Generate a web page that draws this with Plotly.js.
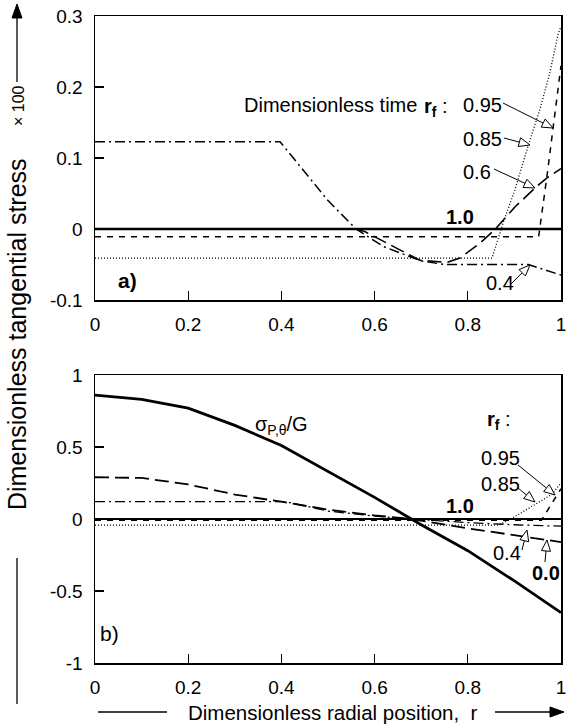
<!DOCTYPE html>
<html>
<head>
<meta charset="utf-8">
<script src="https://cdn.plot.ly/plotly-3.0.1.min.js"></script>
<style>html,body{margin:0;padding:0;background:#fff;}#chart{width:566px;height:728px;}</style>
</head>
<body>
<div id="chart"></div>
<script>
// ---------- DATA ----------
// Panel a) (top): dimensionless tangential stress x 100
const rA_10  = [0, 1];
const sA_10  = [0, 0];
const rA_095 = [0, 0.952, 0.97, 0.994, 1.0];
const sA_095 = [-0.011, -0.011, 0.075, 0.2, 0.23];
const rA_085 = [0, 0.852, 0.876, 0.901, 0.929, 0.955, 0.976, 0.994, 1.0];
const sA_085 = [-0.041, -0.041, 0.009, 0.055, 0.116, 0.169, 0.22, 0.275, 0.285];
const rA_06  = [0, 0.56, 0.58, 0.697, 0.755, 0.783, 0.826, 0.858, 0.901, 0.948, 0.97, 1.0];
const sA_06  = [0, 0, -0.004, -0.044, -0.047, -0.041, -0.02, -0.001, 0.031, 0.06, 0.072, 0.085];
const rA_04  = [0, 0.397, 0.5, 0.56, 0.62, 0.70, 0.75, 0.93, 1.0];
const sA_04  = [0.123, 0.123, 0.04, 0.0, -0.025, -0.045, -0.05, -0.05, -0.065];

// Panel b) (bottom)
const rB_sig = [0, 0.1, 0.2, 0.3, 0.4, 0.5, 0.6, 0.7, 0.8, 0.9, 1.0];
const sB_sig = [0.86, 0.83, 0.77, 0.65, 0.51, 0.33, 0.15, -0.04, -0.22, -0.43, -0.65];
const rB_10  = [0, 1];
const sB_10  = [0, 0];
const rB_095 = [0, 0.958, 1.0];
const sB_095 = [-0.008, -0.008, 0.21];
const rB_085 = [0, 0.867, 0.9, 0.95, 0.98, 1.0];
const sB_085 = [-0.042, -0.042, 0.015, 0.11, 0.17, 0.25];
const rB_04  = [0, 0.41, 0.5, 0.6, 0.68, 0.8, 0.9, 1.0];
const sB_04  = [0.12, 0.12, 0.055, 0.02, 0.0, -0.025, -0.04, -0.05];
const rB_00  = [0, 0.1, 0.2, 0.3, 0.4, 0.5, 0.6, 0.68, 0.8, 0.9, 1.0];
const sB_00  = [0.29, 0.285, 0.24, 0.17, 0.12, 0.065, 0.025, 0.0, -0.065, -0.11, -0.16];

// Tick labels
const xTickVals = [0, 0.2, 0.4, 0.6, 0.8, 1];
const xTickText = ['0', '0.2', '0.4', '0.6', '0.8', '1'];
const yATickVals = [-0.1, 0, 0.1, 0.2, 0.3];
const yATickText = ['-0.1', '0', '0.1', '0.2', '0.3'];
const yBTickVals = [-1, -0.5, 0, 0.5, 1];
const yBTickText = ['-1', '-0.5', '0', '0.5', '1'];

// ---------- STYLE ----------
const FONT = 'Liberation Sans, Arial, Helvetica, sans-serif';
const K = '#000';
const W = 566, H = 728;
const PL = 95, PR = 561, PT = 16, PB = 663;
const PW = PR - PL, PH = PB - PT;
function px(x) { return (x - PL) / PW; }
function py(y) { return (PB - y) / PH; }

const DASH_SHORT = '6px,6px';
const DASH_LONG = '14px,6px';
const DASH_DOT = '10px,4px,2px,4px';
const DOT = '1px,2px';

function tr(x, y, xa, ya, dash, width) {
  return {x: x, y: y, xaxis: xa, yaxis: ya, type: 'scatter', mode: 'lines',
          line: {color: K, width: width, dash: dash}, hoverinfo: 'skip', showlegend: false};
}

const traces = [
  tr(rA_085, sA_085, 'x', 'y', DOT, 1.3),
  tr(rA_095, sA_095, 'x', 'y', DASH_SHORT, 1.5),
  tr(rA_04, sA_04, 'x', 'y', DASH_DOT, 1.5),
  tr(rA_06, sA_06, 'x', 'y', DASH_LONG, 1.6),
  tr(rA_10, sA_10, 'x', 'y', 'solid', 2.6),
  tr(rB_085, sB_085, 'x2', 'y2', DOT, 1.3),
  tr(rB_095, sB_095, 'x2', 'y2', DASH_SHORT, 1.5),
  tr(rB_04, sB_04, 'x2', 'y2', DASH_DOT, 1.3),
  tr(rB_00, sB_00, 'x2', 'y2', DASH_LONG, 1.8),
  tr(rB_10, sB_10, 'x2', 'y2', 'solid', 2.2),
  tr(rB_sig, sB_sig, 'x2', 'y2', 'solid', 2.8)
];

const axisCommon = {
  showline: true, mirror: true, linecolor: K, linewidth: 1.5,
  ticks: 'inside', ticklen: 9, tickwidth: 1.2, tickcolor: K,
  showgrid: false, zeroline: false, tickmode: 'array',
  tickfont: {family: FONT, size: 19, color: K}, ticklabelstandoff: 7,
  ticklabeloverflow: 'allow', fixedrange: true
};

function ann(x, y, text, opts) {
  return Object.assign({xref: 'paper', yref: 'paper', x: px(x), y: py(y), text: text,
    showarrow: false, xanchor: 'left', yanchor: 'middle',
    font: {family: FONT, size: 20, color: K}}, opts || {});
}

const annotations = [
  // panel a
  ann(242, 105, 'Dimensionless time'),
  ann(422, 107, '<b>r<sub>f</sub></b> :'),
  ann(461, 105, '0.95'),
  ann(461, 139, '0.85'),
  ann(461, 172, '0.6'),
  ann(444, 217, '<b>1.0</b>'),
  ann(484, 283, '0.4'),
  ann(116, 280, '<b>a)</b>', {font: {family: FONT, size: 21, color: K}}),
  // panel b
  ann(485, 421, '<b>r<sub>f</sub></b> :'),
  ann(479, 458, '0.95'),
  ann(479, 484, '0.85'),
  ann(444, 506, '<b>1.0</b>'),
  ann(491, 553, '0.4'),
  ann(530, 573, '<b>0.0</b>'),
  ann(253, 425, 'σ<sub>P,θ</sub>/G'),
  ann(98, 633, 'b)', {font: {family: FONT, size: 21, color: K}}),
  // axis titles
  ann(17, 334, 'Dimensionless tangential stress', {xanchor: 'center', textangle: -90, font: {family: FONT, size: 25, color: K}}),
  ann(18, 106, '× 100', {xanchor: 'center', textangle: -90, font: {family: FONT, size: 16, color: K}}),
  ann(333, 712, 'Dimensionless radial position,  r', {xanchor: 'center', font: {family: FONT, size: 20.5, color: K}})
];

const shapes = [];
function line(x0, y0, x1, y1, w) {
  shapes.push({type: 'line', xref: 'paper', yref: 'paper', x0: px(x0), y0: py(y0), x1: px(x1), y1: py(y1),
               line: {color: K, width: w || 1}});
}
function headPath(tx, ty, fx, fy, L, hw) {
  const dx = tx - fx, dy = ty - fy, d = Math.hypot(dx, dy);
  const ux = dx / d, uy = dy / d;
  const bx = tx - ux * L, by = ty - uy * L;
  const nx = -uy, ny = ux;
  const c1x = bx + nx * hw, c1y = by + ny * hw, c2x = bx - nx * hw, c2y = by - ny * hw;
  return {bx: bx, by: by,
    path: 'M' + px(tx) + ',' + py(ty) + 'L' + px(c1x) + ',' + py(c1y) + 'L' + px(c2x) + ',' + py(c2y) + 'Z'};
}
function openArrow(fx, fy, tx, ty) {
  const h = headPath(tx, ty, fx, fy, 11, 4.5);
  line(fx, fy, h.bx, h.by, 1);
  shapes.push({type: 'path', xref: 'paper', yref: 'paper', path: h.path, fillcolor: '#fff',
               line: {color: K, width: 1}});
}
function solidArrow(fx, fy, tx, ty) {
  const h = headPath(tx, ty, fx, fy, 14, 5);
  line(fx, fy, h.bx, h.by, 1.3);
  shapes.push({type: 'path', xref: 'paper', yref: 'paper', path: h.path, fillcolor: K,
               line: {color: K, width: 1}});
}
// panel a arrows
openArrow(503, 103, 553, 128);
openArrow(504, 138, 530, 145);
openArrow(494, 169, 535, 188);
openArrow(511, 284, 530, 265);
// panel b arrows
openArrow(518, 465, 555, 495);
openArrow(518, 488, 535, 502);
openArrow(522, 550, 527, 530);
openArrow(545, 562, 547, 540);
// axis title arrows
solidArrow(17, 82, 17, 4);
line(17, 558, 17, 704, 1.3);
line(98, 712, 167, 712, 1.3);
solidArrow(495, 712, 564, 712);

const layout = {
  width: W, height: H,
  margin: {l: PL, r: W - PR, t: PT, b: H - PB, pad: 0},
  paper_bgcolor: '#fff', plot_bgcolor: '#fff',
  showlegend: false,
  xaxis: Object.assign({}, axisCommon, {anchor: 'y', domain: [0, 1], range: [0, 1], tickvals: xTickVals, ticktext: xTickText}),
  yaxis: Object.assign({}, axisCommon, {anchor: 'x', domain: [py(300), 1], range: [-0.1, 0.3], tickvals: yATickVals, ticktext: yATickText}),
  xaxis2: Object.assign({}, axisCommon, {anchor: 'y2', domain: [0, 1], range: [0, 1], tickvals: xTickVals, ticktext: xTickText}),
  yaxis2: Object.assign({}, axisCommon, {anchor: 'x2', domain: [0, py(375)], range: [-1, 1], tickvals: yBTickVals, ticktext: yBTickText}),
  annotations: annotations,
  shapes: shapes
};

Plotly.newPlot('chart', traces, layout, {displayModeBar: false, staticPlot: true});
</script>
</body>
</html>
